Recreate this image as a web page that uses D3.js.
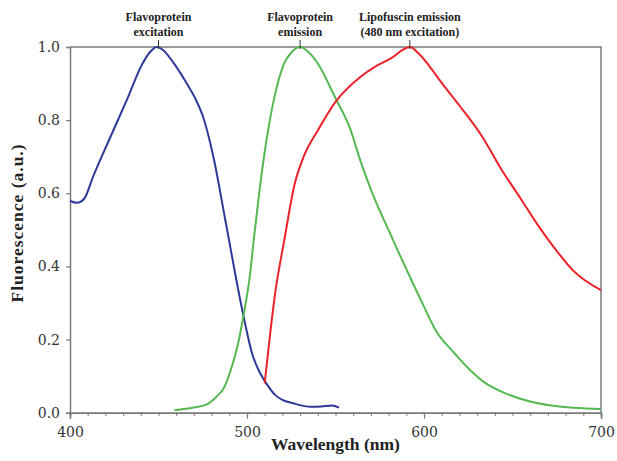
<!DOCTYPE html>
<html>
<head>
<meta charset="utf-8">
<script src="https://cdn.jsdelivr.net/npm/d3@7"></script>
<style>
    body { margin: 0; background: #fff; }
    svg { display: block; }
</style>
</head>
<body>
<svg id="chart" width="617" height="461"></svg>
<script>
// Flavoprotein excitation (blue)
var exWl  = [400, 404, 408, 413, 422, 432, 441, 445, 449, 453, 458, 466, 471, 475, 481, 488, 498, 503, 507, 510, 516, 520, 526, 536, 542, 548, 552];
var exVal = [0.579, 0.574, 0.585, 0.645, 0.745, 0.854, 0.955, 0.985, 1.0, 0.99, 0.96, 0.90, 0.857, 0.812, 0.70, 0.52, 0.265, 0.16, 0.112, 0.087, 0.048, 0.035, 0.026, 0.016, 0.017, 0.020, 0.014];

// Flavoprotein emission (green)
var emWl  = [459, 470, 477, 483, 487, 492, 495, 498, 501.5, 504, 507, 511, 515.5, 521, 525, 530, 535, 540, 550, 558, 564, 570, 580, 592, 600, 607, 616, 626, 635, 645, 654, 673, 700];
var emVal = [0.007, 0.014, 0.022, 0.045, 0.068, 0.135, 0.19, 0.265, 0.37, 0.48, 0.605, 0.745, 0.863, 0.955, 0.985, 1.0, 0.985, 0.955, 0.86, 0.78, 0.69, 0.61, 0.499, 0.372, 0.29, 0.222, 0.169, 0.117, 0.080, 0.055, 0.039, 0.019, 0.010];

// Lipofuscin emission (red)
var lipWl  = [510, 516, 521, 527, 532, 540, 550, 564, 572, 581, 592, 597, 603, 610, 620, 633, 644, 654, 665, 676, 684, 700];
var lipVal = [0.08, 0.33, 0.47, 0.627, 0.70, 0.772, 0.85, 0.918, 0.945, 0.968, 1.0, 0.982, 0.948, 0.902, 0.84, 0.754, 0.663, 0.59, 0.508, 0.436, 0.39, 0.335];

var xTicks = [400, 500, 600, 700];
var yTicks = [0, 0.2, 0.4, 0.6, 0.8, 1.0];

var annotations = [
    {wl: 450, lines: ['Flavoprotein', 'excitation']},
    {wl: 530, lines: ['Flavoprotein', 'emission']},
    {wl: 592, lines: ['Lipofuscin emission', '(480 nm excitation)']}
];

var series = [
    {wl: exWl, val: exVal, color: '#2e3a98'},
    {wl: emWl, val: emVal, color: '#55b852'},
    {wl: lipWl, val: lipVal, color: '#ec2229'}
];

var svg = d3.select('#chart');
var plotLeft = 70, plotRight = 601, plotTop = 47, plotBottom = 412.7;
var axisColor = '#7a7a7a';
var serif = '"Liberation Serif", "DejaVu Serif", serif';

var x = d3.scaleLinear().domain([400, 700]).range([plotLeft, plotRight]);
var y = d3.scaleLinear().domain([0, 1]).range([plotBottom, plotTop]);

// frame (top and right)
svg.append('path')
    .attr('d', 'M' + plotLeft + ',' + plotTop + 'H' + plotRight + 'V' + plotBottom)
    .attr('fill', 'none')
    .attr('stroke', axisColor)
    .attr('stroke-width', 1.5);

// y axis
var yAxis = svg.append('g')
    .attr('transform', 'translate(' + plotLeft + ',0)')
    .call(d3.axisLeft(y).tickValues(yTicks).tickSize(4).tickPadding(6)
        .tickFormat(d3.format('.1f')));

// x axis: minor ticks every 10 nm
var xAxisMinor = svg.append('g')
    .attr('transform', 'translate(0,' + plotBottom + ')')
    .call(d3.axisBottom(x).tickValues(d3.range(400, 701, 10)).tickSize(3).tickFormat(''));

var xAxis = svg.append('g')
    .attr('transform', 'translate(0,' + plotBottom + ')')
    .call(d3.axisBottom(x).tickValues(xTicks).tickSize(6).tickPadding(8)
        .tickFormat(d3.format('d')));

[yAxis, xAxis, xAxisMinor].forEach(function(g) {
    g.select('.domain').attr('stroke', axisColor).attr('stroke-width', 1.5);
    g.selectAll('.tick line').attr('stroke', axisColor).attr('stroke-width', 1.2);
    g.selectAll('.tick text')
        .attr('fill', '#333')
        .style('font-family', '"DejaVu Serif", serif')
        .style('font-size', '14px');
});

// curves
var line = d3.line()
    .x(function(d) { return x(d[0]); })
    .y(function(d) { return y(d[1]); })
    .curve(d3.curveMonotoneX);

series.forEach(function(s) {
    var pts = s.wl.map(function(w, i) { return [w, s.val[i]]; });
    svg.append('path')
        .datum(pts)
        .attr('d', line)
        .attr('fill', 'none')
        .attr('stroke', s.color)
        .attr('stroke-width', 2);
});

// annotations above the plot
annotations.forEach(function(a) {
    var ax = x(a.wl);
    svg.append('line')
        .attr('x1', ax).attr('x2', ax)
        .attr('y1', 40).attr('y2', plotTop + 2)
        .attr('stroke', '#333')
        .attr('stroke-width', 1);
    var t = svg.append('text')
        .attr('x', ax)
        .attr('text-anchor', 'middle')
        .attr('fill', '#222')
        .style('font-family', serif)
        .style('font-weight', 'bold')
        .style('font-size', '12px');
    a.lines.forEach(function(l, i) {
        t.append('tspan').attr('x', ax).attr('y', 20.5 + i * 15).text(l);
    });
});

// axis titles
svg.append('text')
    .attr('x', (plotLeft + plotRight) / 2)
    .attr('y', 450)
    .attr('text-anchor', 'middle')
    .attr('fill', '#222')
    .style('font-family', serif)
    .style('font-weight', 'bold')
    .style('font-size', '17.5px')
    .text('Wavelength (nm)');

svg.append('text')
    .attr('transform', 'translate(23,223) rotate(-90)')
    .attr('text-anchor', 'middle')
    .attr('fill', '#222')
    .style('font-family', serif)
    .style('font-weight', 'bold')
    .style('font-size', '17.5px')
    .style('letter-spacing', '1px')
    .text('Fluorescence (a.u.)');
</script>
</body>
</html>
